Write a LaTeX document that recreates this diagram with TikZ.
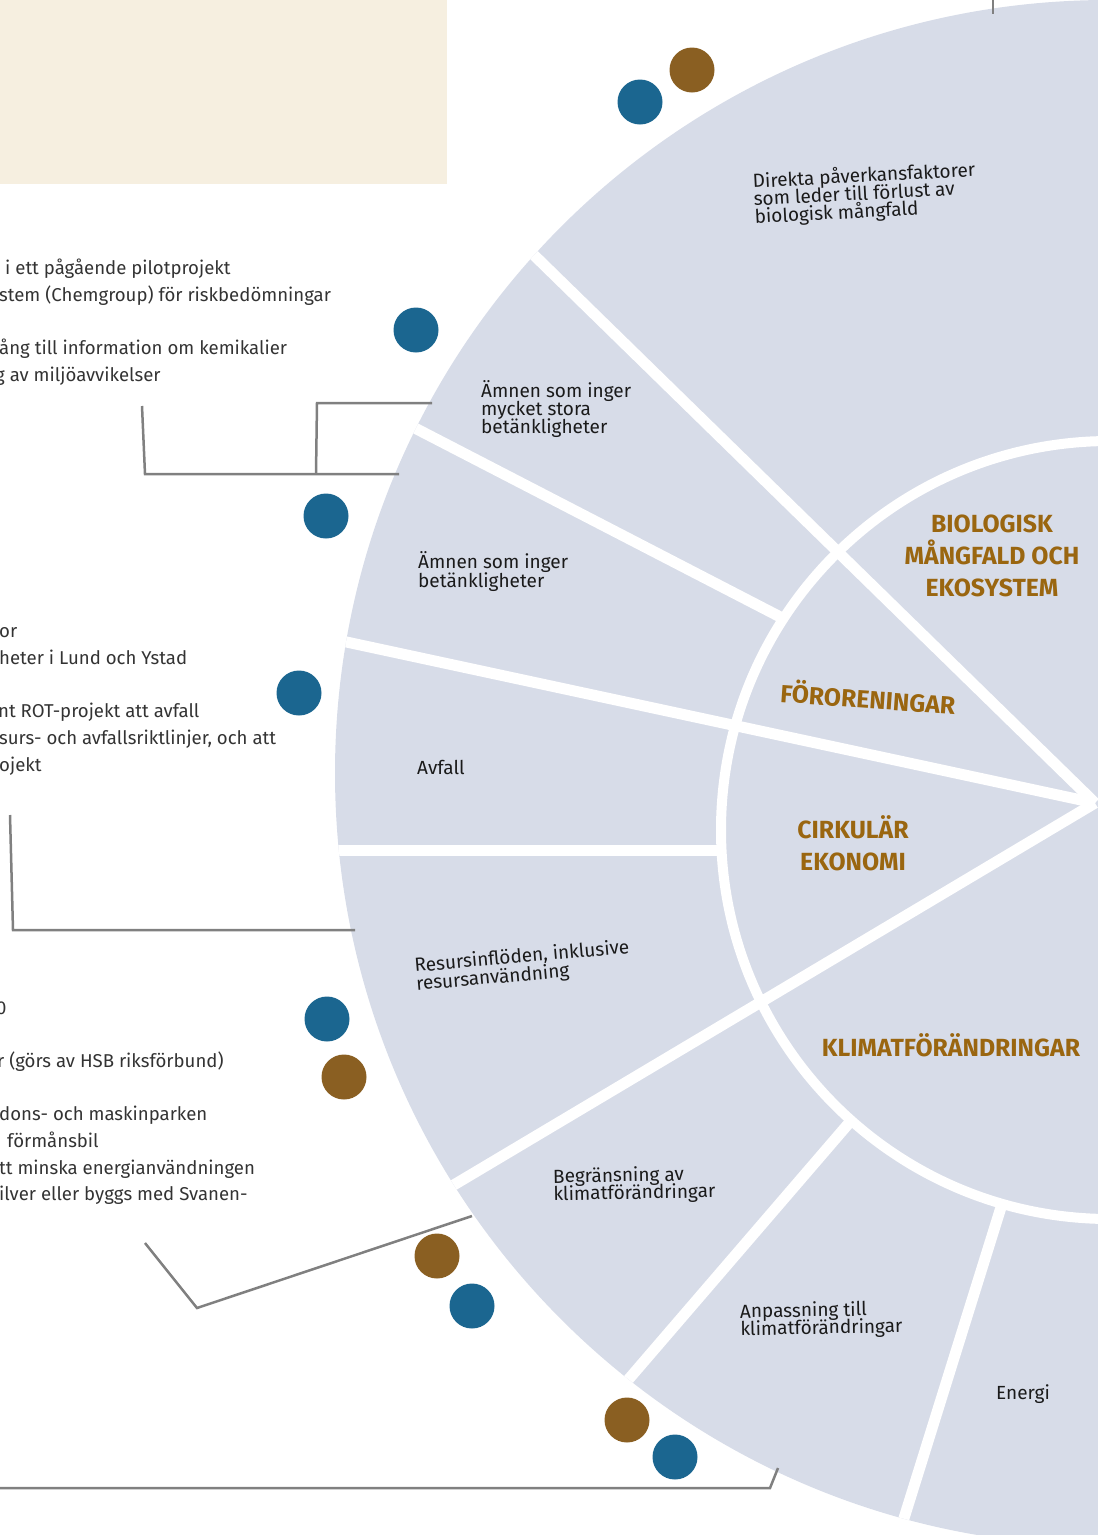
\documentclass[tikz,border=0pt]{standalone}
\usepackage{fontspec}
\setmainfont{Fira Sans}
\definecolor{fillc}{HTML}{D7DCE8}
\definecolor{beigec}{HTML}{F6EFE0}
\definecolor{dblue}{HTML}{1B6690}
\definecolor{dbrown}{HTML}{8A5F22}
\definecolor{goldc}{HTML}{9A6610}
\definecolor{conngray}{HTML}{808080}
\definecolor{txtgray}{HTML}{333333}
\definecolor{sectc}{HTML}{1A1A1A}
\begin{document}
\begin{tikzpicture}[x=1pt,y=-1pt,
  lefttxt/.style={anchor=base west, inner sep=0pt, font=\fontsize{18.6}{20}\selectfont, text=txtgray},
  sectxt/.style={anchor=base west, inner sep=0pt, font=\fontsize{19}{18}\selectfont, text=sectc},
  cattxt/.style={anchor=base, inner sep=0pt, font=\bfseries\fontsize{24.8}{26}\selectfont, text=goldc},
  bluedot/.style={circle, fill=dblue, minimum size=45pt, inner sep=0pt},
  browndot/.style={circle, fill=dbrown, minimum size=45pt, inner sep=0pt},
  conn/.style={draw=conngray, line width=2.5pt},
  gapline/.style={draw=white, line width=11pt}]
\useasboundingbox (0,0) rectangle (1098,1535);
\fill[beigec] (0,0) rectangle (447,184);

% wheel
\begin{scope}
\clip (1108,773) circle[radius=773pt];
\fill[fillc] (1108,773) circle[radius=773pt];
\draw[gapline] (380,410) -- (850,653);
\draw[gapline] (300,850) -- (760,850);
\draw[gapline] (600,1412.5) -- (880,1087);
\draw[gapline] (895,1547) -- (1012,1172);
\fill[fillc] (1110,830) circle[radius=389pt];
\draw[white, line width=10pt] (1110,830) circle[radius=389pt];
\coordinate (hub) at (1095,803);
\coordinate (o12) at (497,219);
\coordinate (o34) at (300,632);
\coordinate (o56) at (400,1217);
\draw[gapline] (o12) -- (hub);
\draw[gapline] (o34) -- (hub);
\draw[gapline] (o56) -- (hub);
\end{scope}

% connectors
\coordinate (a1) at (142,406); \coordinate (a2) at (145,474); \coordinate (a3) at (399,474);
\coordinate (a4) at (316,474); \coordinate (a5) at (317,403); \coordinate (a6) at (432,403);
\draw[conn] (a1) -- (a2) -- (a3);
\draw[conn] (a4) -- (a5) -- (a6);
\coordinate (b1) at (10,815); \coordinate (b2) at (13,930); \coordinate (b3) at (355,930);
\draw[conn] (b1) -- (b2) -- (b3);
\coordinate (c1) at (145,1243); \coordinate (c2) at (197,1308); \coordinate (c3) at (472,1216);
\draw[conn] (c1) -- (c2) -- (c3);
\coordinate (e1) at (0,1488); \coordinate (e2) at (770,1488); \coordinate (e3) at (778,1468);
\draw[conn] (e1) -- (e2) -- (e3);
\coordinate (f1) at (993,0); \coordinate (f2) at (993,14);
\draw[conn] (f1) -- (f2);

% dots
\node[browndot] (d1) at (692,70) {};
\node[bluedot] (d2) at (640,102) {};
\node[bluedot] (d3) at (416,330) {};
\node[bluedot] (d4) at (326,516) {};
\node[bluedot] (d5) at (299,693) {};
\node[bluedot] (d6) at (327,1019) {};
\node[browndot] (d7) at (344,1077) {};
\node[browndot] (d8) at (437,1256) {};
\node[bluedot] (d9) at (472,1306) {};
\node[browndot] (d10) at (627,1420) {};
\node[bluedot] (d11) at (675,1457) {};

% left texts
\node[lefttxt] (t1) at (5,274) {i ett pågående pilotprojekt};
\node[lefttxt] (t2) at (-1,301) {stem (Chemgroup) för riskbedömningar};
\node[lefttxt] (t3) at (-1,354) {ång till information om kemikalier};
\node[lefttxt] (t4) at (-5,381) {g av miljöavvikelser};
\node[lefttxt] (t5) at (-1,637) {or};
\node[lefttxt] (t6) at (-1,664) {heter i Lund och Ystad};
\node[lefttxt] (t7) at (-2,717) {nt ROT-projekt att avfall};
\node[lefttxt] (t8) at (-1,744) {surs- och avfallsriktlinjer, och att};
\node[lefttxt] (t9) at (-1,771) {ojekt};
\node[lefttxt] (t10) at (-4,1014) {0};
\node[lefttxt] (t11) at (-3,1067) {r (görs av HSB riksförbund)};
\node[lefttxt] (t12) at (-1,1120) {dons- och maskinparken};
\node[lefttxt] (t13) at (7,1147) {förmånsbil};
\node[lefttxt] (t14) at (-1,1174) {tt minska energianvändningen};
\node[lefttxt] (t15) at (-1,1200) {ilver eller byggs med Svanen-};

% sector labels
\begin{scope}[shift={(753,188)}, rotate=3]
\node[sectxt, transform shape] (s1a) at (0,0) {Direkta påverkansfaktorer};
\node[sectxt, transform shape] (s1b) at (0,17.8) {som leder till förlust av};
\node[sectxt, transform shape] (s1c) at (0,35.6) {biologisk mångfald};
\end{scope}
\node[sectxt] (s2a) at (481,397) {Ämnen som inger};
\node[sectxt] (s2b) at (481,415) {mycket stora};
\node[sectxt] (s2c) at (481,433) {betänkligheter};
\node[sectxt] (s3a) at (418,568) {Ämnen som inger};
\node[sectxt] (s3b) at (418,587) {betänkligheter};
\node[sectxt] (s4) at (417,774) {Avfall};
\begin{scope}[shift={(415,972)}, rotate=5]
\node[sectxt, transform shape] (s5a) at (0,0) {Resursinflöden, inklusive};
\node[sectxt, transform shape] (s5b) at (0,18.5) {resursanvändning};
\end{scope}
\begin{scope}[shift={(553,1183)}, rotate=1]
\node[sectxt, transform shape] (s6a) at (0,0) {Begränsning av};
\node[sectxt, transform shape] (s6b) at (0,17.5) {klimatförändringar};
\end{scope}
\begin{scope}[shift={(740,1318)}, rotate=1]
\node[sectxt, transform shape] (s7a) at (0,0) {Anpassning till};
\node[sectxt, transform shape] (s7b) at (0,17.5) {klimatförändringar};
\end{scope}
\node[sectxt] (s8) at (996,1399) {Energi};

% category labels
\node[cattxt] (k1a) at (992,532) {BIOLOGISK};
\node[cattxt] (k1b) at (992,564) {MÅNGFALD OCH};
\node[cattxt] (k1c) at (992,596) {EKOSYSTEM};
\node[cattxt, anchor=center, rotate=-4] (k2) at (868,697) {FÖRORENINGAR};
\node[cattxt] (k3a) at (853,838) {CIRKULÄR};
\node[cattxt] (k3b) at (853,870) {EKONOMI};
\node[cattxt] (k4) at (951,1056) {KLIMATFÖRÄNDRINGAR};
\end{tikzpicture}
\end{document}
